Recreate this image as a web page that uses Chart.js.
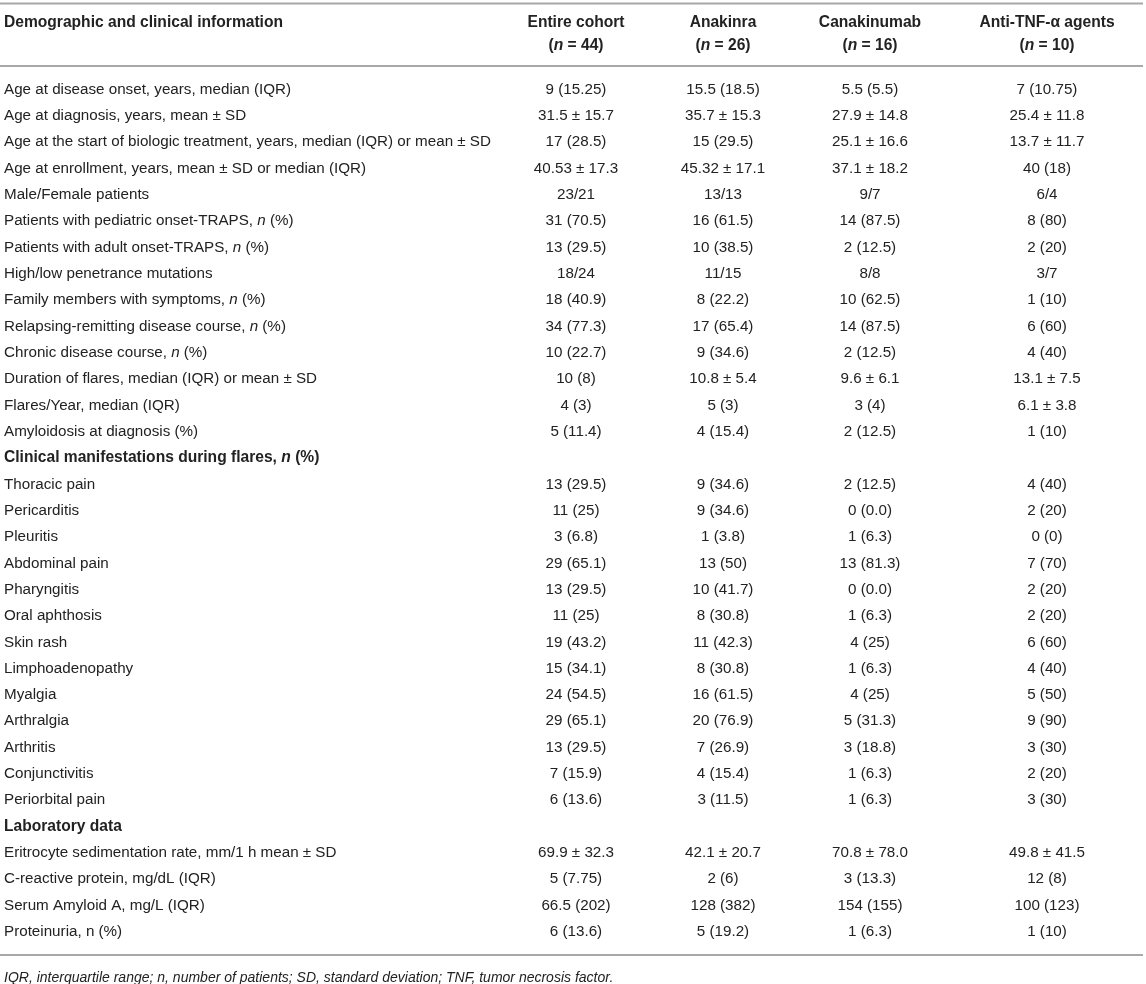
<!DOCTYPE html>
<html>
<head>
<meta charset="utf-8">
<script src="https://cdn.jsdelivr.net/npm/chart.js@4.4.1/dist/chart.umd.min.js"></script>
<style>
  html, body { margin: 0; padding: 0; background: #ffffff; }
  #wrap { width: 1146px; height: 984px; position: relative; }
</style>
</head>
<body>
<div id="wrap"><canvas id="c" width="1146" height="984"></canvas></div>
<script>
// ---------- DATA ----------
const stubHeader = 'Demographic and clinical information';
const columnTitles = ['Entire cohort', 'Anakinra', 'Canakinumab', 'Anti-TNF-α agents'];
const columnCounts = ['44', '26', '16', '10'];

const rowLabels = [
  'Age at disease onset, years, median (IQR)',
  'Age at diagnosis, years, mean ± SD',
  'Age at the start of biologic treatment, years, median (IQR) or mean ± SD',
  'Age at enrollment, years, mean ± SD or median (IQR)',
  'Male/Female patients',
  'Patients with pediatric onset-TRAPS, *n* (%)',
  'Patients with adult onset-TRAPS, *n* (%)',
  'High/low penetrance mutations',
  'Family members with symptoms, *n* (%)',
  'Relapsing-remitting disease course, *n* (%)',
  'Chronic disease course, *n* (%)',
  'Duration of flares, median (IQR) or mean ± SD',
  'Flares/Year, median (IQR)',
  'Amyloidosis at diagnosis (%)',
  'Clinical manifestations during flares, *n* (%)',
  'Thoracic pain',
  'Pericarditis',
  'Pleuritis',
  'Abdominal pain',
  'Pharyngitis',
  'Oral aphthosis',
  'Skin rash',
  'Limphoadenopathy',
  'Myalgia',
  'Arthralgia',
  'Arthritis',
  'Conjunctivitis',
  'Periorbital pain',
  'Laboratory data',
  'Eritrocyte sedimentation rate, mm/1 h mean ± SD',
  'C-reactive protein, mg/dL (IQR)',
  'Serum Amyloid A, mg/L (IQR)',
  'Proteinuria, n (%)'
];

const sectionRows = ['Clinical manifestations during flares, *n* (%)', 'Laboratory data'];

const entireCohort = [
  '9 (15.25)', '31.5 ± 15.7', '17 (28.5)', '40.53 ± 17.3', '23/21', '31 (70.5)', '13 (29.5)',
  '18/24', '18 (40.9)', '34 (77.3)', '10 (22.7)', '10 (8)', '4 (3)', '5 (11.4)',
  null,
  '13 (29.5)', '11 (25)', '3 (6.8)', '29 (65.1)', '13 (29.5)', '11 (25)', '19 (43.2)',
  '15 (34.1)', '24 (54.5)', '29 (65.1)', '13 (29.5)', '7 (15.9)', '6 (13.6)',
  null,
  '69.9 ± 32.3', '5 (7.75)', '66.5 (202)', '6 (13.6)'
];
const anakinra = [
  '15.5 (18.5)', '35.7 ± 15.3', '15 (29.5)', '45.32 ± 17.1', '13/13', '16 (61.5)', '10 (38.5)',
  '11/15', '8 (22.2)', '17 (65.4)', '9 (34.6)', '10.8 ± 5.4', '5 (3)', '4 (15.4)',
  null,
  '9 (34.6)', '9 (34.6)', '1 (3.8)', '13 (50)', '10 (41.7)', '8 (30.8)', '11 (42.3)',
  '8 (30.8)', '16 (61.5)', '20 (76.9)', '7 (26.9)', '4 (15.4)', '3 (11.5)',
  null,
  '42.1 ± 20.7', '2 (6)', '128 (382)', '5 (19.2)'
];
const canakinumab = [
  '5.5 (5.5)', '27.9 ± 14.8', '25.1 ± 16.6', '37.1 ± 18.2', '9/7', '14 (87.5)', '2 (12.5)',
  '8/8', '10 (62.5)', '14 (87.5)', '2 (12.5)', '9.6 ± 6.1', '3 (4)', '2 (12.5)',
  null,
  '2 (12.5)', '0 (0.0)', '1 (6.3)', '13 (81.3)', '0 (0.0)', '1 (6.3)', '4 (25)',
  '1 (6.3)', '4 (25)', '5 (31.3)', '3 (18.8)', '1 (6.3)', '1 (6.3)',
  null,
  '70.8 ± 78.0', '3 (13.3)', '154 (155)', '1 (6.3)'
];
const antiTNF = [
  '7 (10.75)', '25.4 ± 11.8', '13.7 ± 11.7', '40 (18)', '6/4', '8 (80)', '2 (20)',
  '3/7', '1 (10)', '6 (60)', '4 (40)', '13.1 ± 7.5', '6.1 ± 3.8', '1 (10)',
  null,
  '4 (40)', '2 (20)', '0 (0)', '7 (70)', '2 (20)', '2 (20)', '6 (60)',
  '4 (40)', '5 (50)', '9 (90)', '3 (30)', '2 (20)', '3 (30)',
  null,
  '49.8 ± 41.5', '12 (8)', '100 (123)', '1 (10)'
];

const footnote = 'IQR, interquartile range; n, number of patients; SD, standard deviation; TNF, tumor necrosis factor.';

// ---------- LAYOUT / STYLE ----------
const seriesValues = [entireCohort, anakinra, canakinumab, antiTNF];
const layout = {
  width: 1146, height: 984,
  colCenters: [576, 723, 870, 1047],
  stubX: 4,
  rowsTop: 76.5, rowsBottomPad: 39,
  topRule: 3.5, head1: 23, head2: 45.5, headRule: 66,
  bottomRule: 955, footY: 978
};
const style = {
  family: '"Liberation Sans", Arial, Helvetica, sans-serif',
  size: 15.2,
  boldSize: 15.6,
  footSize: 14,
  color: '#222222',
  rule: '#a8a8a8',
  ruleWidth: 2
};

function fontStr(bold, italic, size) {
  return (italic ? 'italic ' : '') + (bold ? 'bold ' : '') + size + 'px ' + style.family;
}
function drawRich(ctx, text, x, y, align, bold) {
  const size = bold ? style.boldSize : style.size;
  const parts = String(text).split('*');
  let total = 0;
  parts.forEach((p, i) => { ctx.font = fontStr(bold, i % 2 === 1, size); total += ctx.measureText(p).width; });
  let cx = align === 'center' ? x - total / 2 : (align === 'right' ? x - total : x);
  ctx.textAlign = 'left';
  ctx.textBaseline = 'middle';
  parts.forEach((p, i) => {
    ctx.font = fontStr(bold, i % 2 === 1, size);
    ctx.fillText(p, cx, y);
    cx += ctx.measureText(p).width;
  });
}

const tablePlugin = {
  id: 'tablePlugin',
  afterDatasetsDraw(chart) {
    const ctx = chart.ctx;
    const xs = chart.scales.x, ys = chart.scales.y;
    ctx.save();
    ctx.fillStyle = style.color;
    // row labels (stub column)
    rowLabels.forEach((lab, i) => {
      const y = ys.getPixelForValue(i);
      drawRich(ctx, lab, xs.getPixelForValue(layout.stubX), y, 'left', sectionRows.includes(lab));
    });
    // cells
    chart.data.datasets.forEach((ds, di) => {
      const meta = chart.getDatasetMeta(di);
      meta.data.forEach((el, i) => {
        drawRich(ctx, ds.data[i].v, el.x, el.y, 'center', false);
      });
    });
    // header
    drawRich(ctx, stubHeader, xs.getPixelForValue(layout.stubX), layout.head1, 'left', true);
    columnTitles.forEach((t, ci) => {
      const x = xs.getPixelForValue(layout.colCenters[ci]);
      drawRich(ctx, t, x, layout.head1, 'center', true);
      drawRich(ctx, '(*n* = ' + columnCounts[ci] + ')', x, layout.head2, 'center', true);
    });
    // footnote
    ctx.font = fontStr(false, true, style.footSize);
    ctx.textAlign = 'left'; ctx.textBaseline = 'middle';
    ctx.fillText(footnote, xs.getPixelForValue(layout.stubX), layout.footY);
    // rules
    ctx.strokeStyle = style.rule;
    ctx.lineWidth = style.ruleWidth;
    [layout.topRule, layout.headRule, layout.bottomRule].forEach(yy => {
      ctx.beginPath();
      ctx.moveTo(xs.getPixelForValue(0), yy);
      ctx.lineTo(xs.getPixelForValue(1143), yy);
      ctx.stroke();
    });
    ctx.restore();
  }
};

const datasets = columnTitles.map((title, ci) => ({
  label: title,
  data: rowLabels.map((r, ri) => ({ x: layout.colCenters[ci], y: r, v: seriesValues[ci][ri] }))
                 .filter(d => d.v !== null),
  pointRadius: 0,
  pointHoverRadius: 0,
  showLine: false
}));

new Chart(document.getElementById('c'), {
  type: 'scatter',
  data: { datasets },
  options: {
    responsive: false,
    devicePixelRatio: 1,
    animation: false,
    layout: { padding: { top: layout.rowsTop, bottom: layout.rowsBottomPad, left: 0, right: 0 } },
    plugins: { legend: { display: false }, tooltip: { enabled: false } },
    scales: {
      x: { type: 'linear', min: 0, max: layout.width, display: false },
      y: { type: 'category', labels: rowLabels, offset: true, display: false }
    }
  },
  plugins: [tablePlugin]
});
</script>
</body>
</html>
